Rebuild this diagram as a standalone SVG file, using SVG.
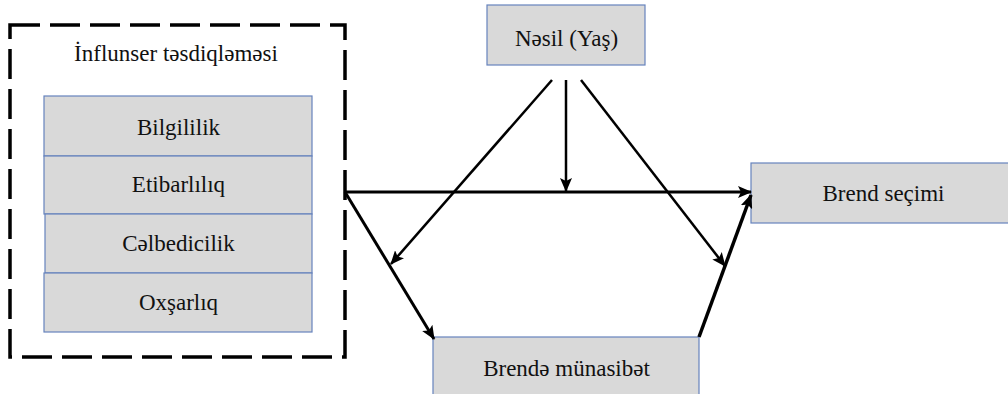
<svg xmlns="http://www.w3.org/2000/svg" width="1008" height="394" viewBox="0 0 1008 394">
<style>
.box{fill:#d9d9d9;stroke:#6683bd;stroke-width:1.2}
.dash{fill:none;stroke:#000;stroke-width:3.5;stroke-dasharray:30 10}
.ln{fill:none;stroke:#000;stroke-linecap:butt}
.lbl{font-family:'Liberation Serif','Times New Roman',serif;font-size:23px;fill:#111;text-anchor:middle}
</style>
<defs>
<marker id="ah" markerUnits="userSpaceOnUse" markerWidth="14" markerHeight="12" viewBox="0 0 14 12" refX="13" refY="6" orient="auto">
<path d="M0,0 L14,6 L0,12 L3,6 Z" fill="#000"/>
</marker>
</defs>
<g id="group-influencer">
<rect class="dash" x="10" y="25" width="335" height="332"/>
<text class="lbl" x="176" y="61">İnflunser təsdiqləməsi</text>
</g>
<g id="node-bilgililik">
<rect class="box" x="44" y="96" width="268" height="60"/>
<text class="lbl" x="178.5" y="135">Bilgililik</text>
</g>
<g id="node-etibarliliq">
<rect class="box" x="44" y="156" width="268" height="58"/>
<text class="lbl" x="178.5" y="192">Etibarlılıq</text>
</g>
<g id="node-celbedicilik">
<rect class="box" x="45" y="214" width="267" height="59"/>
<text class="lbl" x="178.5" y="251">Cəlbedicilik</text>
</g>
<g id="node-oxsarliq">
<rect class="box" x="44" y="273" width="268" height="59"/>
<text class="lbl" x="178.5" y="310">Oxşarlıq</text>
</g>
<g id="node-nesil">
<rect class="box" x="487" y="5" width="158" height="60"/>
<text class="lbl" x="566.5" y="46">Nəsil (Yaş)</text>
</g>
<g id="node-brend-secimi">
<rect class="box" x="751" y="163" width="258" height="60"/>
<text class="lbl" x="883.5" y="201">Brend seçimi</text>
</g>
<g id="node-brende-munasibet">
<rect class="box" x="433" y="337" width="266" height="60"/>
<text class="lbl" x="566.5" y="376">Brendə münasibət</text>
</g>
<g id="connectors">
<line class="ln" x1="345" y1="192" x2="751" y2="192" stroke-width="3" marker-end="url(#ah)"/>
<line class="ln" x1="566" y1="80" x2="566" y2="191" stroke-width="2.5" marker-end="url(#ah)"/>
<line class="ln" x1="552" y1="80" x2="391" y2="264" stroke-width="2.5" marker-end="url(#ah)"/>
<line class="ln" x1="581" y1="80" x2="725" y2="266" stroke-width="2.5" marker-end="url(#ah)"/>
<line class="ln" x1="345" y1="192" x2="434" y2="339" stroke-width="3" marker-end="url(#ah)"/>
<line class="ln" x1="699" y1="337" x2="751" y2="195" stroke-width="3.5" marker-end="url(#ah)"/>
</g>
</svg>
